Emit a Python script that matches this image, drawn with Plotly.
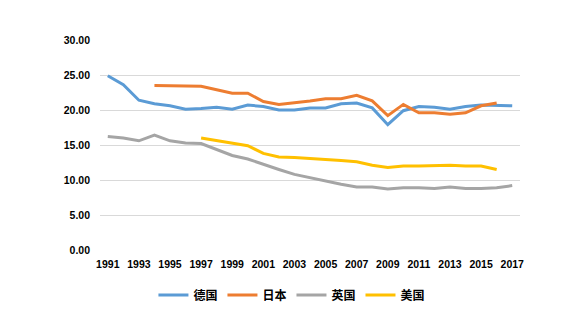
import plotly.graph_objects as go

years = list(range(1991, 2018))

germany = [24.9, 23.6, 21.4, 20.9, 20.6, 20.1, 20.2, 20.4, 20.1, 20.7, 20.5, 20.0, 20.0,
           20.3, 20.3, 20.9, 21.0, 20.3, 17.9, 19.9, 20.5, 20.4, 20.1, 20.5, 20.7, 20.6, 20.6]
japan = [None, None, None, 23.5, 23.5, 23.45, 23.4, 22.9, 22.4, 22.4, 21.2, 20.8, 21.0,
         21.3, 21.6, 21.6, 22.1, 21.3, 19.2, 20.8, 19.6, 19.6, 19.4, 19.6, 20.6, 21.0, None]
uk = [16.2, 16.0, 15.6, 16.4, 15.6, 15.3, 15.2, 14.4, 13.5, 13.0, 12.2, 11.5, 10.8,
      10.3, 9.9, 9.4, 9.0, 9.0, 8.7, 8.9, 8.9, 8.8, 9.0, 8.8, 8.8, 8.9, 9.2]
usa = [None, None, None, None, None, None, 16.0, 15.6, 15.3, 14.9, 13.8, 13.3, 13.2,
       13.1, 12.9, 12.8, 12.6, 12.1, 11.8, 12.0, 12.0, 12.1, 12.1, 12.0, 12.0, 11.5, None]

names = ["德国", "日本", "英国", "美国"]
colors = ["#5b9bd5", "#ed7d31", "#a5a5a5", "#ffc000"]
series = [germany, japan, uk, usa]

xticks = list(range(1991, 2018, 2))
yticks = [0, 5, 10, 15, 20, 25, 30]

fig = go.Figure()
for name, color, vals in zip(names, colors, series):
    fig.add_trace(go.Scatter(x=years, y=vals, name=name, mode="lines",
                             line=dict(color=color, width=3), connectgaps=False))

fig.update_layout(
    width=579, height=332,
    margin=dict(l=100, r=59, t=40, b=82),
    paper_bgcolor="white", plot_bgcolor="white",
    font=dict(family="Liberation Sans, Noto Sans CJK SC", color="#000000"),
    legend=dict(orientation="h", x=0.457, xanchor="center", y=-0.214, yanchor="middle",
                font=dict(size=12, family="Noto Sans CJK SC", weight="bold"),
                itemwidth=30, tracegroupgap=0),
    xaxis=dict(range=[1990.5, 2017.5], tickvals=xticks, ticktext=[str(t) for t in xticks],
               showgrid=False, zeroline=False, showline=False, ticks="",
               ticklabelstandoff=6,
               tickfont=dict(size=10.5, weight="bold")),
    yaxis=dict(range=[0, 30], tickvals=yticks, tickformat=".2f",
               showgrid=True, gridcolor="#d9d9d9", gridwidth=1, zeroline=False,
               showline=False, ticks="", ticklabelstandoff=9,
               tickfont=dict(size=10.5, weight="bold")),
)

fig.write_html("out.html")
